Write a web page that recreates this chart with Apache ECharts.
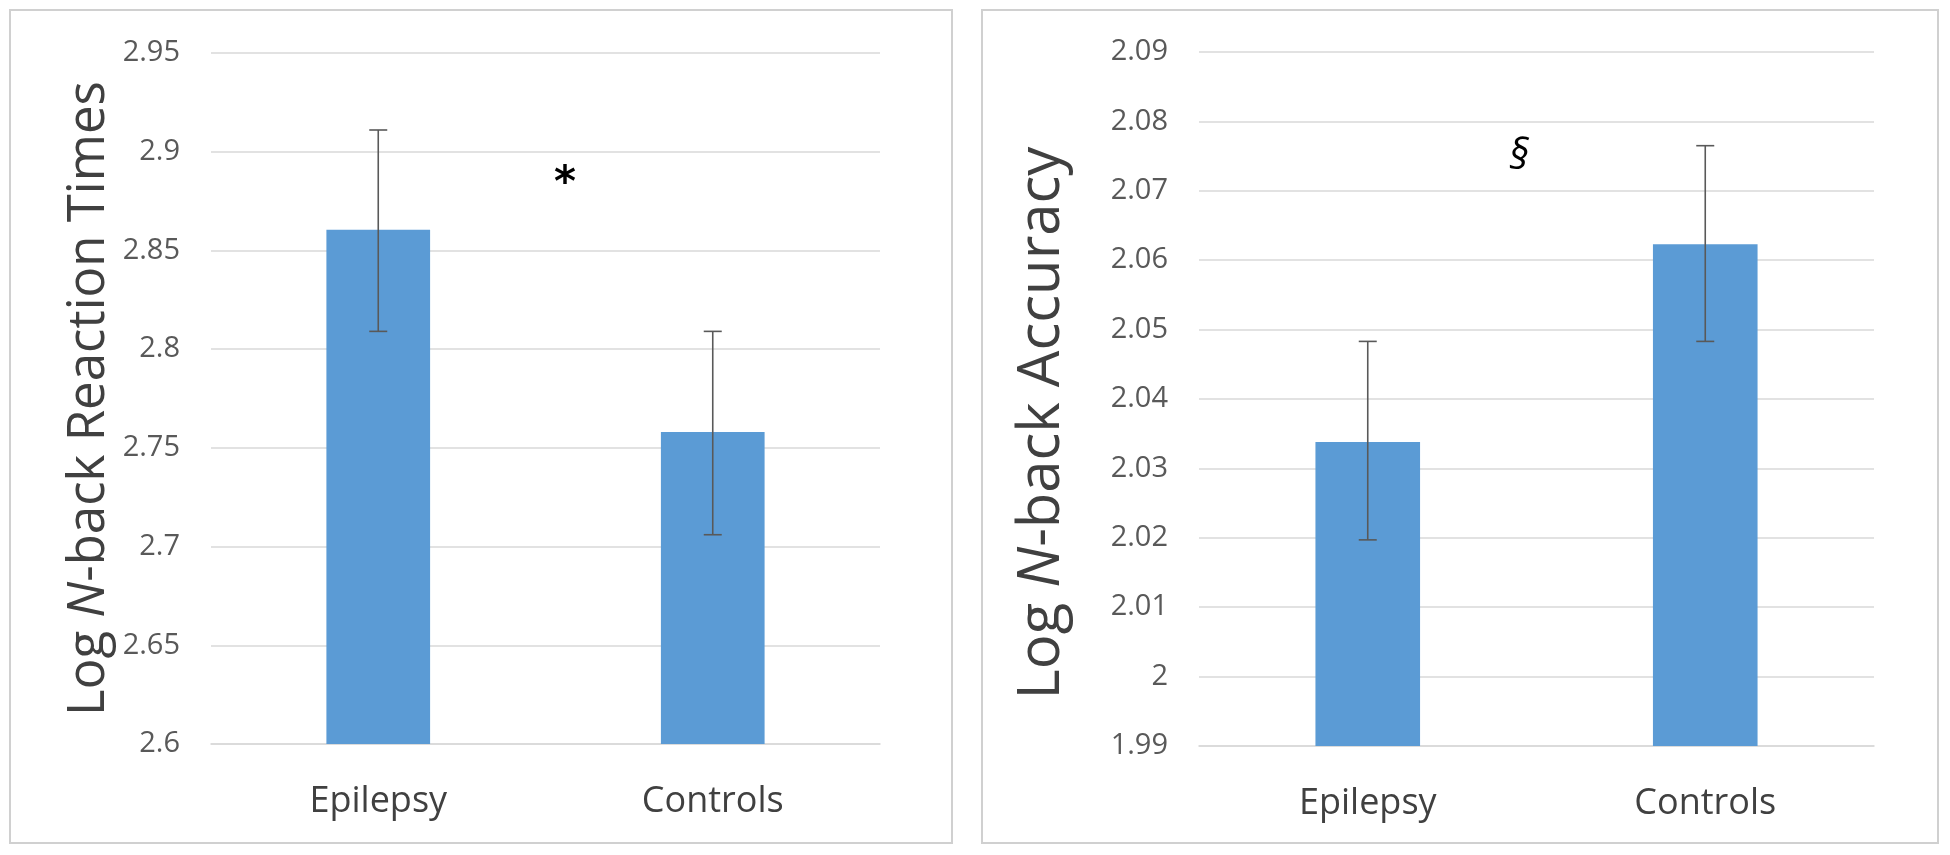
<!DOCTYPE html>
<html>
<head>
<meta charset="utf-8">
<script src="https://cdn.jsdelivr.net/npm/echarts@6/dist/echarts.min.js"></script>
<style>
html,body{margin:0;padding:0;background:#fff;}
#c{width:1950px;height:855px;}
</style>
</head>
<body>
<div id="c"></div>
<script>
// Data
var categories = ['Epilepsy', 'Controls'];
var rtMeans = [2.8605, 2.758];
var rtErrLow = [2.809, 2.706];
var rtErrHigh = [2.911, 2.809];
var accMeans = [2.0338, 2.0623];
var accErrLow = [2.0197, 2.0483];
var accErrHigh = [2.0483, 2.0765];
var rtTicks = {min: 2.6, max: 2.95, interval: 0.05};
var accTicks = {min: 1.99, max: 2.09, interval: 0.01};
var rtMarker = {text: '*', value: 2.889};
var accMarker = {text: '§', value: 2.0752};

var FONT = 'Open Sans';
var barColor = '#5b9bd5';
var gridColor = '#d9d9d9';

function errSeries(xi, yi, low, high) {
  return {
    type: 'custom',
    xAxisIndex: xi, yAxisIndex: yi,
    z: 10,
    data: categories.map(function (c, i) { return [i, low[i], high[i]]; }),
    renderItem: function (params, api) {
      var x = api.value(0);
      var lo = api.coord([x, api.value(1)]);
      var hi = api.coord([x, api.value(2)]);
      var w = 9;
      var st = {stroke: '#595959', lineWidth: 1.6};
      return {
        type: 'group',
        children: [
          {type: 'line', shape: {x1: lo[0], y1: lo[1], x2: hi[0], y2: hi[1]}, style: st},
          {type: 'line', shape: {x1: lo[0] - w, y1: lo[1], x2: lo[0] + w, y2: lo[1]}, style: st},
          {type: 'line', shape: {x1: hi[0] - w, y1: hi[1], x2: hi[0] + w, y2: hi[1]}, style: st}
        ]
      };
    }
  };
}

function yAxis(gi, ticks, nameRich, fs, gap, pad) {
  return {
    type: 'value', gridIndex: gi,
    min: ticks.min, max: ticks.max, interval: ticks.interval,
    axisLine: {show: false}, axisTick: {show: false},
    axisLabel: {fontFamily: FONT, fontSize: 29, color: '#595959', margin: 31},
    splitLine: {lineStyle: {color: gridColor, width: 1.6}},
    name: nameRich, nameLocation: 'middle', nameGap: gap,
    nameTextStyle: {
      fontFamily: FONT, fontSize: fs, color: '#404040',
      padding: pad,
      rich: {
        a: {fontFamily: FONT, fontSize: fs, color: '#404040'},
        b: {fontFamily: FONT, fontSize: fs, color: '#404040', fontStyle: 'italic'}
      }
    }
  };
}

function xAxis(gi) {
  return {
    type: 'category', gridIndex: gi, data: categories,
    axisLine: {lineStyle: {color: gridColor, width: 1.6}},
    axisTick: {show: false},
    axisLabel: {fontFamily: FONT, fontSize: 36, color: '#404040', margin: 40}
  };
}

var chart = echarts.init(document.getElementById('c'));
chart.setOption({
  backgroundColor: '#ffffff',
  animation: false,
  grid: [
    {left: 211, right: 1070, top: 53, height: 691},
    {left: 1199, right: 76, top: 52, height: 694}
  ],
  xAxis: [xAxis(0), xAxis(1)],
  yAxis: [
    yAxis(0, rtTicks, '{a|Log }{b|N}{a|-back Reaction Times}', 51, 96, [0, 0, 0, 0]),
    yAxis(1, accTicks, '{a|Log }{b|N}{a|-back Accuracy}', 58, 128, [0, 48, 0, 0])
  ],
  series: [
    {type: 'bar', xAxisIndex: 0, yAxisIndex: 0, data: rtMeans, barWidth: '31%', itemStyle: {color: barColor}},
    errSeries(0, 0, rtErrLow, rtErrHigh),
    {type: 'bar', xAxisIndex: 1, yAxisIndex: 1, data: accMeans, barWidth: '31%', itemStyle: {color: barColor}},
    errSeries(1, 1, accErrLow, accErrHigh)
  ],
  graphic: [
    {type: 'rect', shape: {x: 10, y: 10, width: 942, height: 833}, style: {fill: 'none', stroke: '#d0d0d0', lineWidth: 2}, z: -1},
    {type: 'rect', shape: {x: 982, y: 10, width: 956, height: 833}, style: {fill: 'none', stroke: '#d0d0d0', lineWidth: 2}, z: -1}
  ]
});

// significance markers positioned through the value axes
var p1 = chart.convertToPixel({yAxisIndex: 0}, rtMarker.value);
var p2 = chart.convertToPixel({yAxisIndex: 1}, accMarker.value);
chart.setOption({
  graphic: [
    {}, {},
    {type: 'text', x: 565, y: p1 + 12, style: {text: rtMarker.text, fontFamily: 'DejaVu Sans', fontWeight: 'bold', fontSize: 42, fill: '#000', align: 'center', verticalAlign: 'middle'}},
    {type: 'text', x: 1519, y: p2 + 2, style: {text: accMarker.text, fontFamily: FONT, fontStyle: 'italic', fontSize: 42, fill: '#000', align: 'center', verticalAlign: 'middle'}}
  ]
});
</script>
</body>
</html>
